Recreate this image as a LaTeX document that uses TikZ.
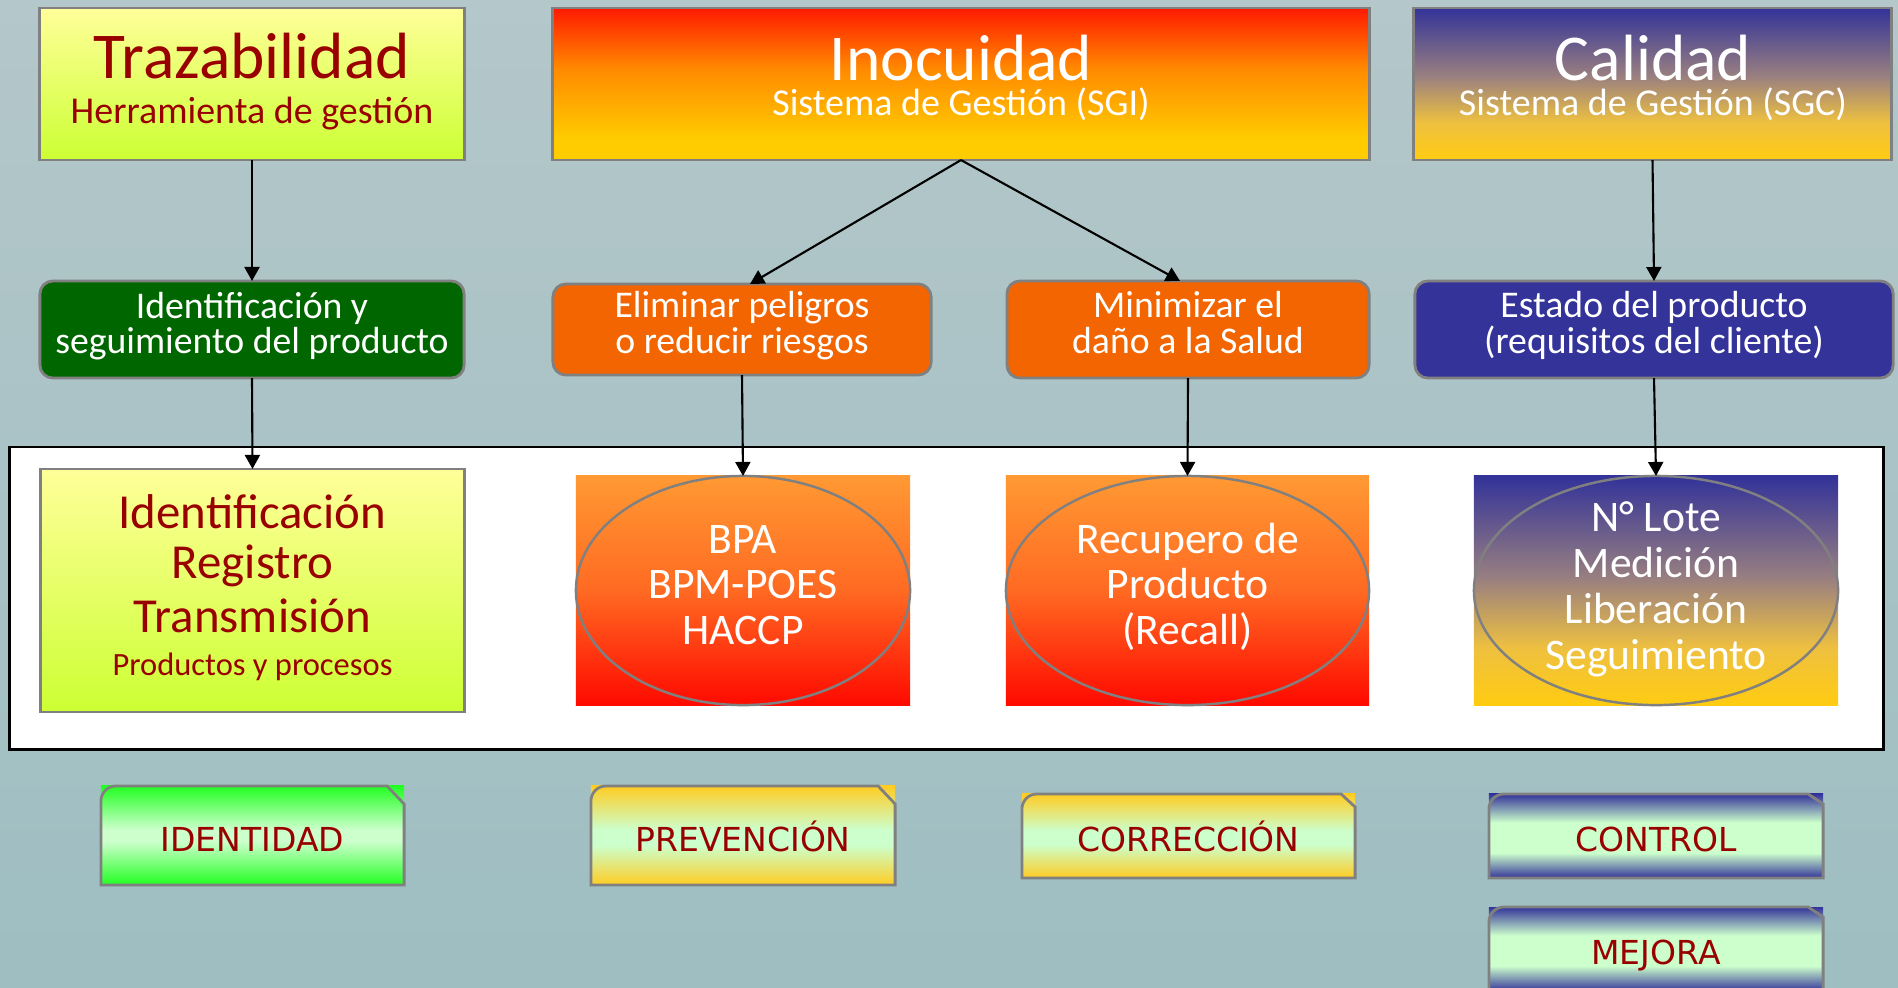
\documentclass[tikz,border=0pt]{standalone}
\usepackage{fontspec}
\setmainfont{Carlito}
\newfontfamily\dvs{DejaVu Sans}
\usetikzlibrary{arrows.meta,shapes.geometric,calc}

\definecolor{bgtop}{HTML}{B4C7CA}
\definecolor{bgbot}{HTML}{9EBEC1}
\definecolor{dred}{HTML}{990000}
\definecolor{bord}{HTML}{808080}
\definecolor{lyel}{HTML}{FFFF99}
\definecolor{lgrn}{HTML}{CCFF33}
\definecolor{inoR}{HTML}{FF1A00}
\definecolor{inoO}{HTML}{FF8A00}
\definecolor{inoY}{HTML}{FFCC00}
\definecolor{navy}{HTML}{333399}
\definecolor{gold}{HTML}{FFCC11}
\definecolor{mauve}{HTML}{9A8080}
\definecolor{tanc}{HTML}{EEC040}
\definecolor{dgreen}{HTML}{006600}
\definecolor{orng}{HTML}{F26500}
\definecolor{ellT}{HTML}{FF9933}
\definecolor{ellM}{HTML}{FF6A22}
\definecolor{ellB}{HTML}{FF0A00}
\definecolor{mint}{HTML}{CCFFCC}
\definecolor{lime}{HTML}{22FF22}
\definecolor{gold2}{HTML}{FFCC22}

\pgfdeclareverticalshading{inoshade}{100bp}{color(0bp)=(inoY); color(25bp)=(inoY); color(32bp)=(inoY); color(55bp)=(inoO); color(75bp)=(inoR); color(100bp)=(inoR)}
\pgfdeclareverticalshading{calshade}{100bp}{color(0bp)=(gold); color(25bp)=(gold); color(37.5bp)=(tanc); color(52.5bp)=(mauve); color(75bp)=(navy); color(100bp)=(navy)}
\pgfdeclareverticalshading{ctrlshade}{100bp}{color(0bp)=(navy); color(25bp)=(navy); color(40bp)=(mint); color(58bp)=(mint); color(75bp)=(navy); color(100bp)=(navy)}
\pgfdeclareverticalshading{idshade}{100bp}{color(0bp)=(lime); color(25bp)=(lime); color(47bp)=(mint); color(53bp)=(mint); color(75bp)=(lime); color(100bp)=(lime)}
\pgfdeclareverticalshading{prshade}{100bp}{color(0bp)=(gold2); color(25bp)=(gold2); color(45bp)=(mint); color(53bp)=(mint); color(75bp)=(gold2); color(100bp)=(gold2)}

\newcommand\tagoutline[3]{\draw[tagline] (#1.south west) -- ($(#1.north west)+(0,15)$) arc[start angle=180,end angle=90,radius=0.15cm] -- ($(#1.north east)+(-#2,0)$) -- ($(#1.north east)+(0,#3)$) -- (#1.south east) -- cycle;}

\begin{document}
\begin{tikzpicture}[x=0.01cm,y=-0.01cm,
  bx/.style={rectangle, draw=bord, line width=0.8pt, inner sep=0pt, outer sep=0pt},
  rbx/.style={bx, rounded corners=0.13cm},
  conn/.style={draw=black, line width=0.6pt, -{Triangle[length=0.14cm,width=0.15cm]}},
  ttl/.style={anchor=base, inner sep=0pt, font=\fontsize{18.6}{20}\selectfont},
  sub/.style={anchor=base, inner sep=0pt, font=\fontsize{10.8}{12}\selectfont},
  mid/.style={anchor=base, inner sep=0pt, text=white, font=\fontsize{10.73}{12}\selectfont},
  big/.style={anchor=base, inner sep=0pt, text=dred, font=\fontsize{13.9}{15}\selectfont},
  ell/.style={anchor=base, inner sep=0pt, text=white, font=\fontsize{12.4}{14}\selectfont},
  oval/.style={ellipse, draw=bord, line width=0.7pt, inner sep=0pt, outer sep=0pt, minimum width=3.34cm, minimum height=2.29cm},
  grad/.style={rectangle, inner sep=0pt, outer sep=0pt},
  tag/.style={rectangle, inner sep=0pt, outer sep=0pt, text=dred, font=\dvs\fontsize{9.39}{11}\selectfont, text height=0.31cm, text depth=0pt},
  tagline/.style={draw=bord, line width=0.8pt},
]
\useasboundingbox (0,0) rectangle (1898,987);
\shade[top color=bgtop,bottom color=bgbot] (0,0) rectangle (1898,987);

% top row
\node[bx, top color=lyel, bottom color=lgrn, minimum width=4.24cm, minimum height=1.52cm] (traz) at (252,84) {};
\node[ttl, text=dred] (trazt) at (252,78) {Trazabilidad};
\node[sub, text=dred] (trazs) at (252,123) {Herramienta de gestión};

\node[bx, shade, shading=inoshade, minimum width=8.16cm, minimum height=1.52cm] (ino) at (961,84) {};
\node[ttl, text=white] (inot) at (961,80) {Inocuidad};
\node[sub, text=white] (inos) at (961,115) {Sistema de Gestión (SGI)};

\node[bx, shade, shading=calshade, minimum width=4.77cm, minimum height=1.52cm] (cal) at (1652.5,84) {};
\node[ttl, text=white] (calt) at (1653,80) {Calidad};
\node[sub, text=white] (cals) at (1653,115) {Sistema de Gestión (SGC)};

% middle row
\node[rbx, fill=dgreen, minimum width=4.24cm, minimum height=0.97cm] (idsg) at (252,329.5) {};
\node[mid] (idsg1) at (252,318) {Identificación y};
\node[mid] (idsg2) at (252,353) {seguimiento del producto};

\node[rbx, fill=orng, minimum width=3.78cm, minimum height=0.91cm] (elim) at (742,329.5) {};
\node[mid] (elim1) at (742,317) {Eliminar peligros};
\node[mid] (elim2) at (742,353) {o reducir riesgos};

\node[rbx, fill=orng, minimum width=3.62cm, minimum height=0.97cm] (mini) at (1188,329.5) {};
\node[mid] (mini1) at (1188,317) {Minimizar el};
\node[mid] (mini2) at (1188,353) {daño a la Salud};

\node[rbx, fill=navy, minimum width=4.78cm, minimum height=0.97cm] (est) at (1654,329.5) {};
\node[mid] (est1) at (1654,317) {Estado del producto};
\node[mid] (est2) at (1654,353) {(requisitos del cliente)};

% panel
\node[rectangle, draw=black, fill=white, line width=0.8pt, inner sep=0pt, minimum width=18.73cm, minimum height=3.02cm] (panel) at (946.5,598) {};

\node[bx, top color=lyel, bottom color=lgrn, minimum width=4.23cm, minimum height=2.43cm] (irt) at (252.5,590.5) {};
\node[big] (irt1) at (252.5,528) {Identificación};
\node[big] (irt2) at (252.5,578) {Registro};
\node[big] (irt3) at (252.5,632) {Transmisión};
\node[anchor=base, inner sep=0pt, text=dred, font=\fontsize{9.24}{10}\selectfont] (irt4) at (252.5,675) {Productos y procesos};

\node[grad, top color=ellT, bottom color=ellB, middle color=ellM, minimum width=3.34cm, minimum height=2.29cm] (bpar) at (743,590.5) {};
\node[oval] (bpa) at (743,590.5) {};
\node[ell] (bpa1) at (743,553) {BPA};
\node[ell] (bpa2) at (743,598) {BPM-POES};
\node[ell] (bpa3) at (743,644) {HACCP};

\node[grad, top color=ellT, bottom color=ellB, middle color=ellM, minimum width=3.63cm, minimum height=2.29cm] (recr) at (1187.5,590.5) {};
\node[oval, minimum width=3.63cm] (rec) at (1187.5,590.5) {};
\node[ell] (rec1) at (1187.5,553) {Recupero de};
\node[ell] (rec2) at (1187.5,598) {Producto};
\node[ell] (rec3) at (1187.5,644) {(Recall)};

\node[grad, shade, shading=calshade, minimum width=3.64cm, minimum height=2.29cm] (loter) at (1656,590.5) {};
\node[oval, minimum width=3.64cm] (lote) at (1656,590.5) {};
\node[ell] (lote1) at (1656,531) {N° Lote};
\node[ell] (lote2) at (1656,577) {Medición};
\node[ell] (lote3) at (1656,623) {Liberación};
\node[ell] (lote4) at (1656,669) {Seguimiento};

% bottom tags
\node[tag, shade, shading=idshade, minimum width=3.03cm, minimum height=0.99cm] (tid) at (252.5,835.5) {IDENTIDAD};
\tagoutline{tid}{17}{18}
\node[tag, shade, shading=prshade, minimum width=3.04cm, minimum height=0.99cm] (tpr) at (743,835.5) {PREVENCIÓN};
\tagoutline{tpr}{17}{18}
\node[tag, shade, shading=prshade, minimum width=3.33cm, minimum height=0.84cm] (tco) at (1188.5,836) {CORRECCIÓN};
\tagoutline{tco}{14}{13}
\node[tag, shade, shading=ctrlshade, minimum width=3.34cm, minimum height=0.84cm] (tct) at (1656,836) {CONTROL};
\tagoutline{tct}{15}{10}
\node[tag, shade, shading=ctrlshade, minimum width=3.34cm, minimum height=0.84cm] (tme) at (1656,949) {MEJORA};
\tagoutline{tme}{15}{10}

% connectors
\draw[conn] (traz.south) -- (idsg.north);
\draw[conn] (idsg.south) -- (irt.north);
\draw[conn] (ino.south) -- ([xshift=0.08cm]elim.north);
\draw[conn] (ino.south) -- ([xshift=-0.08cm]mini.north);
\draw[conn] (elim.south) -- (bpa.north);
\draw[conn] (mini.south) -- (rec.north);
\draw[conn] (cal.south) -- (est.north);
\draw[conn] (est.south) -- (lote.north);
\end{tikzpicture}
\end{document}
